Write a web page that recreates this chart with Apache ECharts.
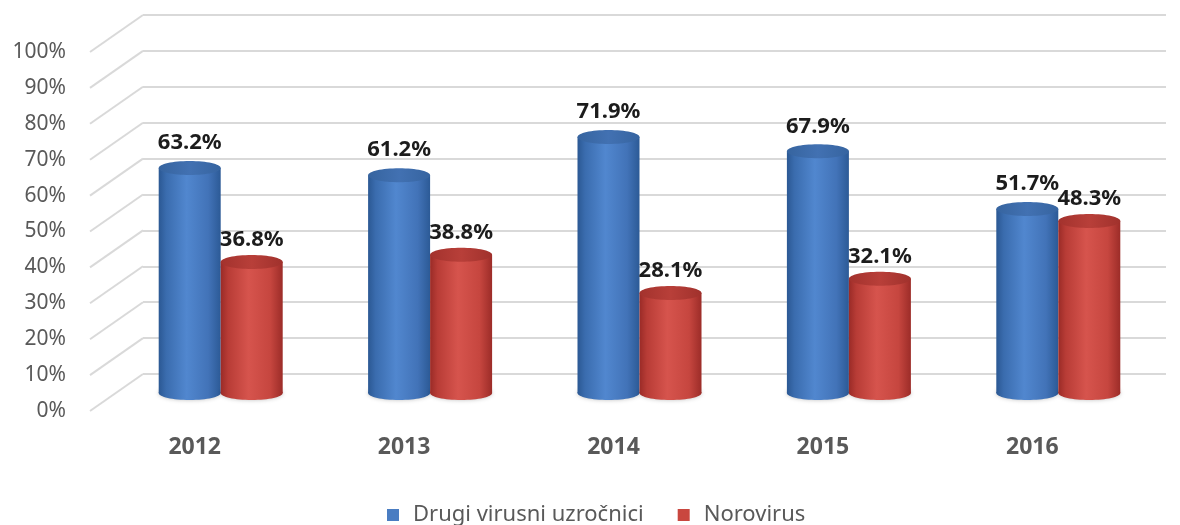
<!DOCTYPE html>
<html>
<head>
<meta charset="utf-8">
<script src="https://cdn.jsdelivr.net/npm/echarts@6/dist/echarts.min.js"></script>
<style>
html,body{margin:0;padding:0;background:#fff;}
#chart{width:1180px;height:525px;}
</style>
</head>
<body>
<div id="chart"></div>
<script>
// ---- data ----
var categories = ['2012', '2013', '2014', '2015', '2016'];
var seriesNames = ['Drugi virusni uzročnici', 'Norovirus'];
var drugiValues = [63.2, 61.2, 71.9, 67.9, 51.7];
var norovirusValues = [36.8, 38.8, 28.1, 32.1, 48.3];
var yTicks = [0, 10, 20, 30, 40, 50, 60, 70, 80, 90, 100];

// ---- styles ----
var FONT = 'Noto Sans';
var DEPTH_X = 53, DEPTH_Y = 37;
var BAR_W = 62, CAP_RY = 7;

var styles = [
  {
    base: '#4a7dc2',
    body: [
      {offset: 0, color: '#2b5893'}, {offset: 0.12, color: '#3a6cae'},
      {offset: 0.45, color: '#5187cf'}, {offset: 0.8, color: '#4273b8'},
      {offset: 1, color: '#2c5a96'}
    ],
    cap: [{offset: 0, color: '#36649f'}, {offset: 0.5, color: '#4271b2'}, {offset: 1, color: '#3664a0'}],
    side: -1, labelDy: 25
  },
  {
    base: '#c9473f',
    body: [
      {offset: 0, color: '#9a2b27'}, {offset: 0.12, color: '#b83c36'},
      {offset: 0.45, color: '#d6544d'}, {offset: 0.8, color: '#c6463f'},
      {offset: 1, color: '#9c2c28'}
    ],
    cap: [{offset: 0, color: '#a3322d'}, {offset: 0.5, color: '#b83f39'}, {offset: 1, color: '#a0312c'}],
    side: 1, labelDy: 22
  }
];

function lg(stops) {
  return new echarts.graphic.LinearGradient(0, 0, 1, 0, stops);
}

function cylinderRenderer(st) {
  return function (params, api) {
    var ci = api.value(0);
    var v = api.value(1);
    var base = api.coord([ci, 0]);
    var top = api.coord([ci, v]);
    var cx = base[0] + st.side * BAR_W / 2;
    var rx = BAR_W / 2;
    return {
      type: 'group',
      children: [
        {
          type: 'ellipse',
          shape: {cx: cx, cy: base[1], rx: rx, ry: CAP_RY},
          style: {fill: lg(st.body), shadowBlur: 4, shadowColor: 'rgba(0,0,0,0.25)'}
        },
        {
          type: 'rect',
          shape: {x: cx - rx, y: top[1], width: BAR_W, height: base[1] - top[1]},
          style: {fill: lg(st.body)}
        },
        {
          type: 'ellipse',
          shape: {cx: cx, cy: top[1], rx: rx, ry: CAP_RY},
          style: {fill: lg(st.cap)}
        },
        {
          type: 'text',
          style: {
            x: cx, y: top[1] - st.labelDy,
            text: v.toFixed(1) + '%',
            align: 'center', verticalAlign: 'middle',
            fill: '#1c1c1c',
            font: 'bold 22px "' + FONT + '"'
          }
        }
      ]
    };
  };
}

var chart = echarts.init(document.getElementById('chart'), null, {renderer: 'canvas'});

var option = {
  animation: false,
  backgroundColor: '#ffffff',
  textStyle: {fontFamily: FONT},
  grid: [
    // 0: bars (mid-depth plane)
    {left: 116, right: 17, top: 37, bottom: 132},
    // 1: front plane (axis labels, category labels, slanted lines)
    {left: 90, right: 43, top: 52, bottom: 114},
    // 2: back wall (horizontal gridlines)
    {left: 143, right: 14, top: 15, bottom: 151}
  ],
  xAxis: [
    {gridIndex: 0, type: 'category', data: categories, show: false},
    {
      gridIndex: 1, type: 'category', data: categories,
      axisLine: {show: false}, axisTick: {show: false},
      axisLabel: {margin: 25, color: '#595959', fontSize: 23, fontWeight: 'bold', fontFamily: FONT}
    },
    {gridIndex: 2, type: 'value', min: 0, max: 1, show: false}
  ],
  yAxis: [
    {gridIndex: 0, type: 'value', min: 0, max: 100, interval: 10, show: false},
    {
      gridIndex: 1, type: 'value', min: 0, max: 100, interval: 10,
      axisLine: {show: false}, axisTick: {show: false}, splitLine: {show: false},
      axisLabel: {margin: 24, color: '#595959', fontSize: 21, fontFamily: FONT, formatter: '{value}%'}
    },
    {
      gridIndex: 2, type: 'value', min: 0, max: 100, interval: 10,
      axisLine: {show: false}, axisTick: {show: false}, axisLabel: {show: false},
      splitLine: {show: true, lineStyle: {color: '#d9d9d9', width: 2}}
    }
  ],
  legend: {
    data: seriesNames,
    left: 382, top: 499,
    icon: 'rect', itemWidth: 12, itemHeight: 12, itemGap: 34,
    textStyle: {color: '#595959', fontSize: 22, fontFamily: FONT, padding: [0, 0, 0, 9]}
  },
  series: [
    {
      type: 'custom',
      name: 'grid-slant',
      xAxisIndex: 1, yAxisIndex: 1,
      silent: true, clip: false, z: 1,
      data: yTicks.map(function (t) { return [0, t]; }),
      renderItem: function (params, api) {
        var p = api.coord([0, api.value(1)]);
        var x0 = params.coordSys.x;
        return {
          type: 'line',
          shape: {x1: x0, y1: p[1], x2: x0 + DEPTH_X, y2: p[1] - DEPTH_Y},
          style: {stroke: '#d9d9d9', lineWidth: 2}
        };
      }
    },
    {
      type: 'custom',
      name: seriesNames[0],
      xAxisIndex: 0, yAxisIndex: 0,
      clip: false, z: 3,
      itemStyle: {color: styles[0].base},
      data: drugiValues.map(function (v, i) { return [i, v]; }),
      renderItem: cylinderRenderer(styles[0])
    },
    {
      type: 'custom',
      name: seriesNames[1],
      xAxisIndex: 0, yAxisIndex: 0,
      clip: false, z: 4,
      itemStyle: {color: styles[1].base},
      data: norovirusValues.map(function (v, i) { return [i, v]; }),
      renderItem: cylinderRenderer(styles[1])
    }
  ]
};
chart.setOption(option);
</script>
</body>
</html>
